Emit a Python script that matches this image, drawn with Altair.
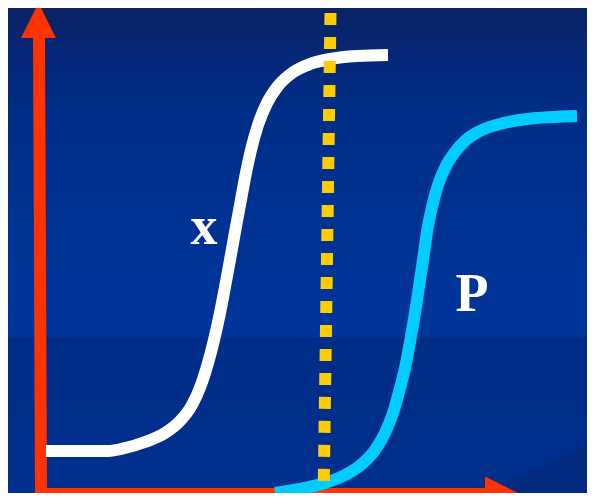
import altair as alt
import pandas as pd

# --- values (origin at the axes' corner) ---
white_x = [46, 108, 125, 145, 165, 180, 192, 201, 208, 214, 220, 225, 230, 235, 240, 245, 251, 258, 267, 278, 292, 310, 330, 357, 388]
white_y = [451, 451, 448, 442, 433, 421, 405, 385, 363, 340, 313, 287, 260, 232, 205, 178, 150, 125, 103, 86, 73, 64, 59, 56, 55]

cyan_x = [275, 300, 325, 345, 362, 375, 385, 393, 399, 405, 410, 415, 419, 423, 427, 432, 438, 446, 455, 466, 480, 500, 527, 577]
cyan_y = [493, 489, 483, 475, 464, 450, 433, 413, 392, 368, 342, 313, 287, 260, 232, 207, 185, 166, 152, 140, 131, 124, 119, 116]

ORIGIN_X, ORIGIN_Y = 40, 494
white_u = [x - ORIGIN_X for x in white_x]
white_v = [ORIGIN_Y - y for y in white_y]
cyan_u = [x - ORIGIN_X for x in cyan_x]
cyan_v = [ORIGIN_Y - y for y in cyan_y]

axis_u = [-1, 1]
axis_v = [458, 1]
haxis_u = [1, 448]
haxis_v = [0, 0]
arrow_u = [-1.5, 462.5]
arrow_v = [473.5, 0]
arrow_shape = ["M0,-1L-1,1L1,1Z", "M1,0L-1,-1L-1,1Z"]

marker_u = [290.5, 283.5]
marker_v = [481, -7]

label_text = ["x", "P"]
label_u = [164, 432]
label_v = [250, 183]

wedge_u = [430, 555]
wedge_v = [-7, 54]

W, H = 579, 485
xs = alt.Scale(domain=[-32, 547], nice=False, zero=False)
ys = alt.Scale(domain=[1, 486], nice=False, zero=False)

def X(f="u"):
    return alt.X(f"{f}:Q", scale=xs, axis=None)

def Y(f="v"):
    return alt.Y(f"{f}:Q", scale=ys, axis=None)

def off(y):
    return (y - 8) / H

bg = alt.Chart(pd.DataFrame({"a": [0]})).mark_rect(
    fill={
        "gradient": "linear", "x1": 0, "y1": 0, "x2": 0, "y2": 1,
        "stops": [
            {"offset": 0.0, "color": "#0a2363"},
            {"offset": off(60), "color": "#04287a"},
            {"offset": off(120), "color": "#002e88"},
            {"offset": off(220), "color": "#003293"},
            {"offset": off(336), "color": "#00359c"},
            {"offset": off(338), "color": "#002d88"},
            {"offset": 1.0, "color": "#002f8e"},
        ],
    }
).encode(x=alt.value(0), x2=alt.value(W), y=alt.value(0), y2=alt.value(H))

wedge = alt.Chart(pd.DataFrame({"u": wedge_u, "v": wedge_v, "b": [-7, -7]})).mark_area(
    color="#012a80", interpolate="linear"
).encode(x=X(), y=Y(), y2="b:Q")

vaxis = alt.Chart(pd.DataFrame({"u": [axis_u[0]], "u2": [axis_u[1]], "v": [axis_v[0]], "v2": [axis_v[1]]})).mark_rule(
    color="#ff3300", strokeWidth=12, strokeCap="butt"
).encode(x=X(), x2="u2:Q", y=Y(), y2="v2:Q")

haxis = alt.Chart(pd.DataFrame({"u": [haxis_u[0]], "u2": [haxis_u[1]], "v": [haxis_v[0]], "v2": [haxis_v[1]]})).mark_rule(
    color="#ff3300", strokeWidth=12, strokeCap="butt"
).encode(x=X(), x2="u2:Q", y=Y(), y2="v2:Q")

arrows = alt.layer(*[
    alt.Chart(pd.DataFrame({"u": [arrow_u[i]], "v": [arrow_v[i]]})).mark_point(
        shape=arrow_shape[i], size=1225, filled=True, color="#ff3300", opacity=1, strokeWidth=0
    ).encode(x=X(), y=Y())
    for i in range(2)
])

white = alt.Chart(pd.DataFrame({"u": white_u, "v": white_v})).mark_line(
    color="white", strokeWidth=12, strokeCap="butt", interpolate="monotone"
).encode(x=X(), y=Y(), order="u:Q")

cyan = alt.Chart(pd.DataFrame({"u": cyan_u, "v": cyan_v})).mark_line(
    color="#00ccff", strokeWidth=12, strokeCap="butt", interpolate="monotone"
).encode(x=X(), y=Y(), order="u:Q")

marker = alt.Chart(pd.DataFrame({"u": [marker_u[0]], "u2": [marker_u[1]], "v": [marker_v[0]], "v2": [marker_v[1]]})).mark_rule(
    color="#ffcc00", strokeWidth=12, strokeCap="butt", strokeDash=[12, 12]
).encode(x=X(), x2="u2:Q", y=Y(), y2="v2:Q")

labels = alt.Chart(pd.DataFrame({"t": label_text, "u": label_u, "v": label_v})).mark_text(
    font="Liberation Serif", fontWeight="bold", fontSize=54, color="white",
    align="center", baseline="alphabetic"
).encode(x=X(), y=Y(), text="t:N")

chart = alt.layer(bg, wedge, vaxis, haxis, arrows, white, cyan, marker, labels).properties(
    width=W, height=H, padding=0, autosize=alt.AutoSizeParams(type="none"),
    background="#0a2363"
).configure_view(stroke=None)

chart.save("out.html", embed_options={"renderer": "svg", "actions": False})
